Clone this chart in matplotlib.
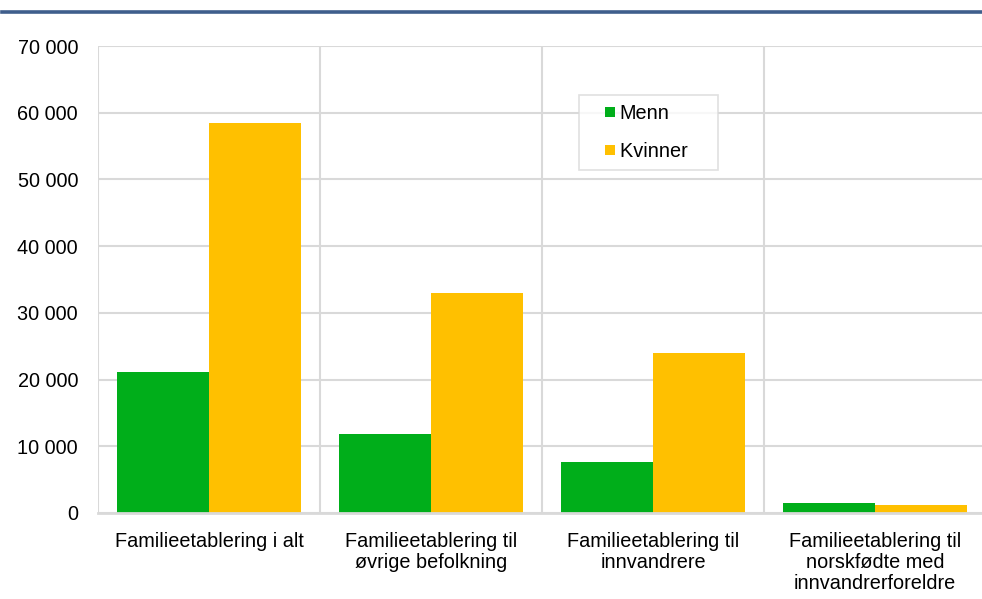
import numpy as np
import matplotlib.pyplot as plt
from matplotlib.lines import Line2D
from matplotlib.patches import Rectangle
from matplotlib.legend_handler import HandlerBase

plt.rcParams['font.family'] = ['Liberation Sans', 'DejaVu Sans']

categories = ['Familieetablering i alt',
              'Familieetablering til\nøvrige befolkning',
              'Familieetablering til\ninnvandrere',
              'Familieetablering til\nnorskfødte med\ninnvandrerforeldre']
menn = [21150, 11850, 7650, 1500]
kvinner = [58500, 33000, 24000, 1200]
yticks = [0, 10000, 20000, 30000, 40000, 50000, 60000, 70000]
ytick_labels = ['0', '10 000', '20 000', '30 000', '40 000', '50 000', '60 000', '70 000']

green = '#00AE1A'
yellow = '#FFC000'
grid = '#D9D9D9'
fs = 14.3


class SquareHandler(HandlerBase):
    # small square sitting at the right end of the handle box
    def create_artists(self, legend, orig_handle, xdescent, ydescent,
                       width, height, fontsize, trans):
        s = 7.2
        r = Rectangle((width - s - xdescent, (height - s) / 2 - ydescent), s, s,
                      facecolor=orig_handle.get_facecolor(), edgecolor='none',
                      transform=trans)
        return [r]


fig = plt.figure(figsize=(9.82, 5.99), dpi=100)
# blue rule at the top
fig.add_artist(Line2D([0.002, 1.0], [1 - 11.5 / 599, 1 - 11.5 / 599],
                      color='#3F5E8C', lw=2.6))

ax = fig.add_axes([98 / 982, 1 - 513 / 599, 888 / 982, 467 / 599])
x = np.arange(len(categories))
w = 0.415
ax.bar(x - w / 2, menn, w, color=green, zorder=3, label='Menn')
ax.bar(x + w / 2, kvinner, w, color=yellow, zorder=3, label='Kvinner')

ax.set_xlim(-0.5, len(categories) - 0.5)
ax.set_ylim(0, 70000)
ax.set_yticks(yticks)
ax.set_yticklabels(ytick_labels, fontsize=fs)
ax.set_xticks(x)
ax.set_xticklabels(categories, fontsize=fs, linespacing=1.13)
ax.tick_params(axis='y', length=0, pad=14.4)
ax.tick_params(axis='x', length=0, pad=14)

ax.grid(axis='y', color=grid, lw=1.5, zorder=0)
for b in np.arange(-0.5, len(categories), 1.0):
    ax.axvline(b, color=grid, lw=1.5, zorder=0)
for s in ['top', 'right', 'left']:
    ax.spines[s].set_visible(False)
ax.spines['bottom'].set_color(grid)
ax.spines['bottom'].set_linewidth(2)
ax.spines['bottom'].set_zorder(4)

h1 = Rectangle((0, 0), 1, 1, facecolor=green)
h2 = Rectangle((0, 0), 1, 1, facecolor=yellow)
# trailing spaces widen the box to the right like the original
leg = fig.legend([h1, h2], ['Menn', 'Kvinner    '], loc='upper left',
                 bbox_to_anchor=(579 / 982, 1 - 95 / 599), fontsize=fs,
                 frameon=True, fancybox=False, edgecolor=grid,
                 handler_map={Rectangle: SquareHandler()},
                 handlelength=1.35, handletextpad=0.25, labelspacing=0.97,
                 borderpad=0.45, borderaxespad=0)
leg.get_frame().set_linewidth(1.2)

fig.savefig('out.png', dpi=100)
